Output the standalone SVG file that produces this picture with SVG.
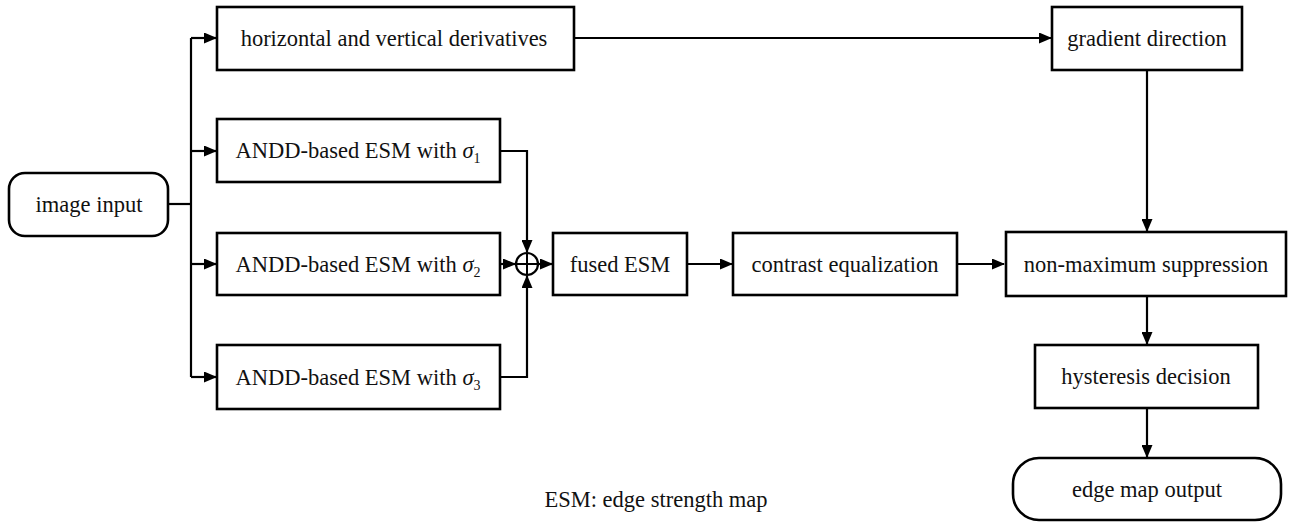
<svg xmlns="http://www.w3.org/2000/svg" width="1291" height="522" viewBox="0 0 1291 522">
<style>
.box{fill:#fff;stroke:#000;stroke-width:2.6}
.t{font-family:'Liberation Serif','Tinos','DejaVu Serif','Noto Serif',serif;font-size:22.5px;fill:#111;text-anchor:middle}
.c{fill:none;stroke:#000;stroke-width:2.2}
.s{font-style:italic}
.sub{font-size:14px}
</style>
<defs>
<marker id="ah" viewBox="0 0 13 11" refX="12" refY="5.5" markerWidth="13" markerHeight="11" markerUnits="userSpaceOnUse" orient="auto">
<path d="M0,0 L13,5.5 L0,11 Z" fill="#000"/>
</marker>
</defs>
<rect width="1291" height="522" fill="#fff"/>
<g id="connectors">
<path class="c" d="M168,204 H191"/>
<path class="c" d="M191,38 V377"/>
<path class="c" d="M191,38 H216" marker-end="url(#ah)"/>
<path class="c" d="M191,151 H216" marker-end="url(#ah)"/>
<path class="c" d="M191,264 H216" marker-end="url(#ah)"/>
<path class="c" d="M191,377 H216" marker-end="url(#ah)"/>
<path class="c" d="M574,38 H1051" marker-end="url(#ah)"/>
<path class="c" d="M500,151 H527 V252" marker-end="url(#ah)"/>
<path class="c" d="M500,264 H515" marker-end="url(#ah)"/>
<path class="c" d="M500,377 H527 V276" marker-end="url(#ah)"/>
<path class="c" d="M538,264 H552" marker-end="url(#ah)"/>
<path class="c" d="M687,264 H732" marker-end="url(#ah)"/>
<path class="c" d="M957,264 H1004" marker-end="url(#ah)"/>
<path class="c" d="M1147,70 V231" marker-end="url(#ah)"/>
<path class="c" d="M1147,296 V344" marker-end="url(#ah)"/>
<path class="c" d="M1147,408 V457" marker-end="url(#ah)"/>
</g>
<g id="image-input">
<rect class="box" x="9" y="173" width="159" height="63" rx="16"/>
<text class="t" x="89" y="212" font-family="Liberation Serif, serif">image input</text>
</g>
<g id="derivatives">
<rect class="box" x="217" y="7" width="357" height="63"/>
<text class="t" x="394" y="46">horizontal and vertical derivatives</text>
</g>
<g id="esm1">
<rect class="box" x="217" y="119" width="283" height="63"/>
<text class="t" x="358" y="158">ANDD-based ESM with <tspan class="s">σ</tspan><tspan class="sub" dy="5">1</tspan></text>
</g>
<g id="esm2">
<rect class="box" x="217" y="233" width="283" height="62"/>
<text class="t" x="358" y="272">ANDD-based ESM with <tspan class="s">σ</tspan><tspan class="sub" dy="5">2</tspan></text>
</g>
<g id="esm3">
<rect class="box" x="217" y="345" width="283" height="64"/>
<text class="t" x="358" y="385">ANDD-based ESM with <tspan class="s">σ</tspan><tspan class="sub" dy="5">3</tspan></text>
</g>
<g id="sum">
<circle cx="527" cy="264" r="11" fill="#fff" stroke="#000" stroke-width="2.2"/>
<path d="M516,264 H538 M527,253 V275" stroke="#000" stroke-width="2"/>
</g>
<g id="fused">
<rect class="box" x="553" y="233" width="134" height="62"/>
<text class="t" x="620" y="272">fused ESM</text>
</g>
<g id="contrast">
<rect class="box" x="733" y="233" width="224" height="62"/>
<text class="t" x="845" y="272">contrast equalization</text>
</g>
<g id="gradient">
<rect class="box" x="1052" y="7" width="190" height="63"/>
<text class="t" x="1147" y="46">gradient direction</text>
</g>
<g id="nms">
<rect class="box" x="1006" y="232" width="280" height="64"/>
<text class="t" x="1146" y="272">non-maximum suppression</text>
</g>
<g id="hysteresis">
<rect class="box" x="1035" y="345" width="223" height="63"/>
<text class="t" x="1146" y="384">hysteresis decision</text>
</g>
<g id="output">
<rect class="box" x="1013" y="458" width="268" height="62" rx="26"/>
<text class="t" x="1147" y="497">edge map output</text>
</g>
<text class="t" x="656" y="507">ESM: edge strength map</text>
</svg>
